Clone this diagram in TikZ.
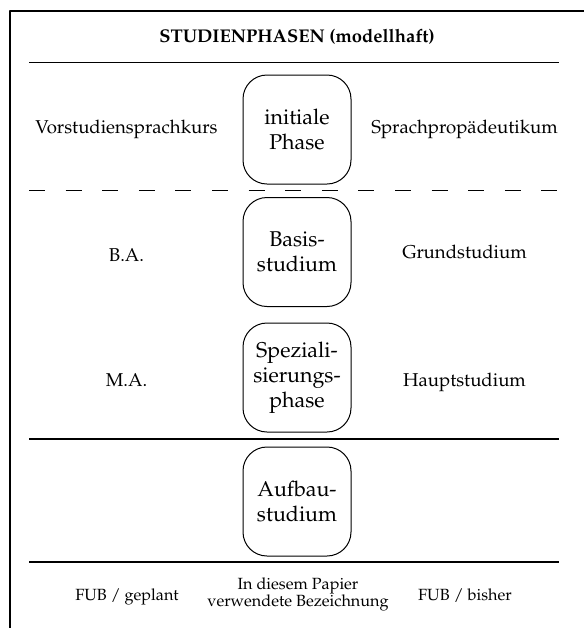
\documentclass[tikz,border=0pt]{standalone}
\usepackage[T1]{fontenc}
\usepackage{mathpazo}
\begin{document}
\begin{tikzpicture}[x=0.5pt, y=-0.5pt, line join=round,
  phase/.style={draw, line width=0.5pt, rounded corners=12pt, minimum width=54pt,
    minimum height=54.5pt, align=center, inner sep=0pt, font=\fontsize{10.7}{12.4}\selectfont},
  lbl/.style={anchor=base, font=\fontsize{9.3}{11}\selectfont},
  fuss/.style={anchor=base, font=\fontsize{8.1}{9}\selectfont},
  trenn/.style={line width=0.55pt}]
\useasboundingbox (0,0) rectangle (584,628);
\draw[line width=0.6pt] (10,628) -- (10,11) -- (584,11);
\node[anchor=base] (titel) at (297,42.7) {\fontsize{9.2}{11}\selectfont\bfseries STUDIENPHASEN (modellhaft)};
\draw[trenn] (29,62.5) -- (559,62.5);
\draw[trenn, dash pattern=on 8pt off 10.3pt] (29,190.8) -- (559,190.8);
\draw[trenn] (29,439) -- (559,439);
\draw[trenn] (29,562) -- (559,562);
% Phasen
\node[phase] (initial) at (297,129.5) {initiale\\Phase};
\node[phase] (basis) at (297,252) {Basis-\\studium};
\node[phase] (spezial) at (297,377.5) {Speziali-\\sierungs-\\phase};
\node[phase] (aufbau) at (297,501.5) {Aufbau-\\studium};
% Bezeichnungen links und rechts
\foreach \n/\yl/\links/\yr/\rechts in {vor/133.3/Vorstudiensprachkurs/133.3/Sprachprop\"adeutikum,
    ba/261.7/B.A./258.3/Grundstudium, ma/386/M.A./386/Hauptstudium}
  {\node[lbl] (\n L) at (126.5,\yl) {\links};
   \node[lbl] (\n R) at (464.5,\yr) {\rechts};}
\node[fuss] (geplant) at (127,600) {FUB / geplant};
\node[fuss] (papier1) at (298,589.3) {In diesem Papier};
\node[fuss] (papier2) at (298,606.7) {verwendete Bezeichnung};
\node[fuss] (bisher) at (465,600) {FUB / bisher};
\end{tikzpicture}
\end{document}
